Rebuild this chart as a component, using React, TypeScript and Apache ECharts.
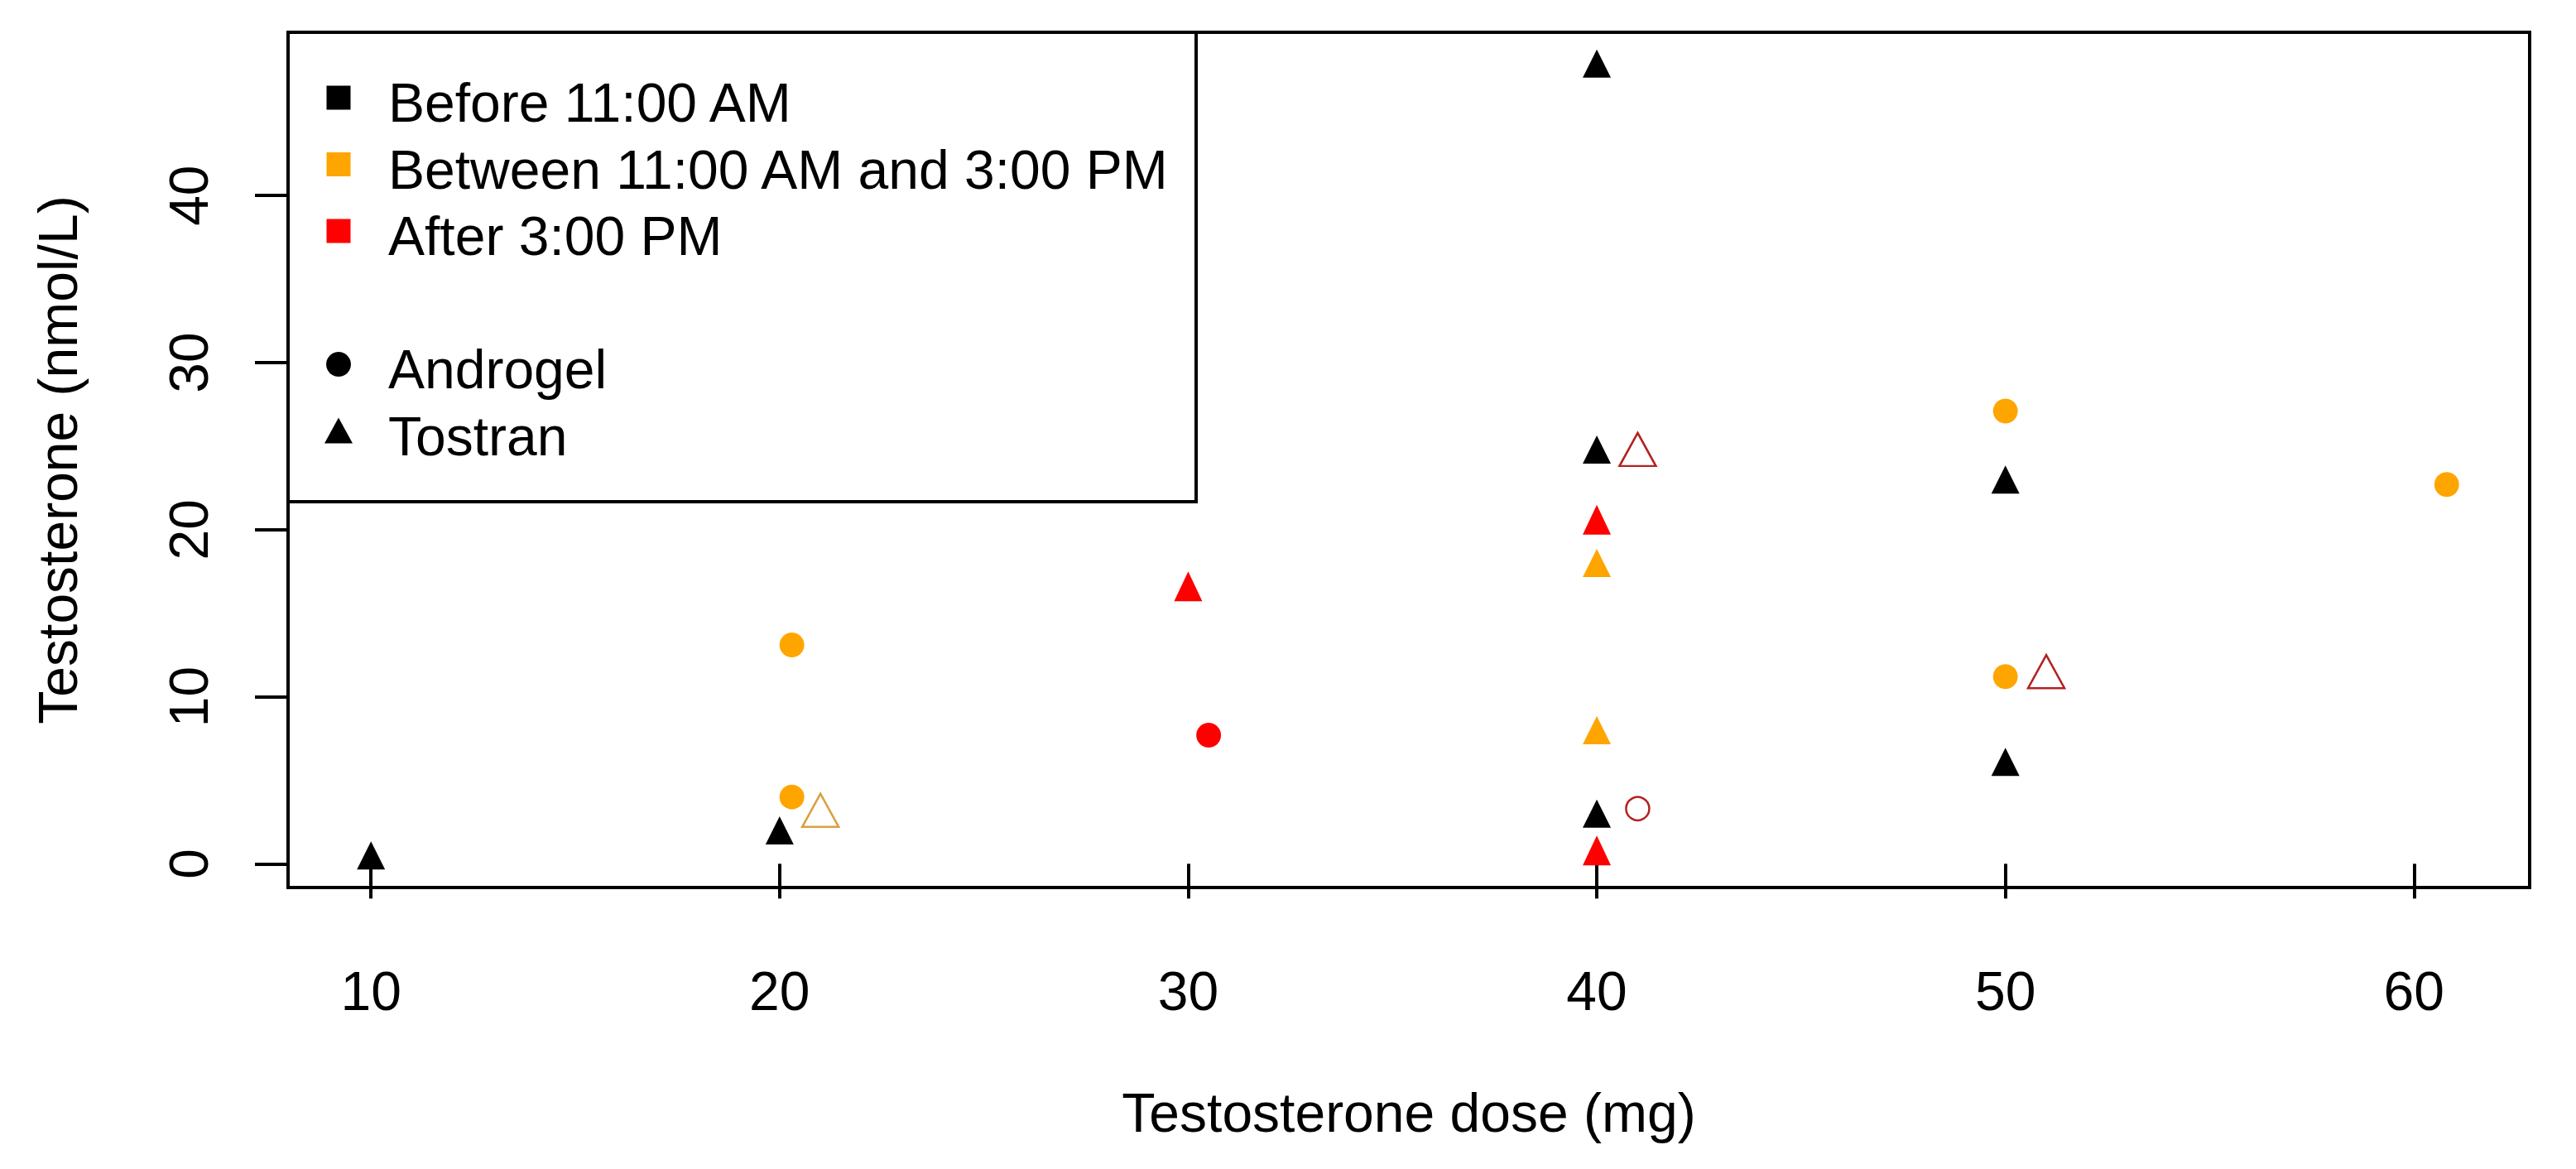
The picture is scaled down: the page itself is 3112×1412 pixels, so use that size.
import React, { useEffect, useRef } from "react";
import * as echarts from "echarts";

// Axis ticks
const xTicks = [10, 20, 30, 40, 50, 60];
const yTicks = [0, 10, 20, 30, 40];

// Data: [dose (mg), testosterone (nmol/L)]
const beforeTostran = [[10, 0.5], [20, 2.0], [40, 47.9], [40, 24.8], [40, 3.0], [50, 23.0], [50, 6.1]];
const betweenAndrogel = [[20.3, 4.0], [20.3, 13.1], [50, 27.1], [50, 11.2], [60.8, 22.7]];
const betweenTostran = [[40, 18.0], [40, 8.0]];
const afterAndrogel = [[30.5, 7.7]];
const afterTostran = [[30, 16.6], [40, 20.6], [40, 0.8]];
const betweenTostranOpen = [[21, 3.2]];
const afterTostranOpen = [[41, 24.8], [51, 11.5]];
const afterAndrogelOpen = [[41, 3.3]];

const legendGroups = ["Before 11:00 AM", "Between 11:00 AM and 3:00 PM", "After 3:00 PM"];
const legendProducts = ["Androgel", "Tostran"];

const BLACK = "#000000";
const ORANGE = "#FFA500";
const RED = "#FF0000";
const ORANGE_OPEN = "#D9A040";
const RED_OPEN = "#B22222";
const groupColors = [BLACK, ORANGE, RED];

const FONT = "'Liberation Sans', Arial, sans-serif";
const FS = 66;

export default function App() {
  const ref = useRef<HTMLDivElement>(null);

  useEffect(() => {
    if (!ref.current) return;
    const chart = echarts.init(ref.current, null, { renderer: "svg" });

    const filled = (name: string, data: number[][], symbol: string, color: string, size: any) => ({
      name,
      type: "scatter",
      data,
      symbol,
      symbolSize: size,
      itemStyle: { color, opacity: 1 },
      emphasis: { disabled: true },
    });
    const open = (name: string, data: number[][], symbol: string, color: string, size: any) => ({
      name,
      type: "scatter",
      data,
      symbol,
      symbolSize: size,
      itemStyle: { color: "transparent", borderColor: color, borderWidth: 2.5, opacity: 1 },
      emphasis: { disabled: true },
    });

    const rowY = [118, 198.5, 279, 440, 520.5];
    const symX = 409;
    const textX = 469;

    const legendChildren: any[] = [
      {
        type: "rect",
        shape: { x: 348, y: 39, width: 1097, height: 567 },
        style: { fill: "#ffffff", stroke: "#000", lineWidth: 4 },
      },
    ];
    legendGroups.forEach((g, i) => {
      legendChildren.push({
        type: "rect",
        shape: { x: symX - 14.5, y: rowY[i] - 14.5, width: 29, height: 29 },
        style: { fill: groupColors[i] },
      });
      legendChildren.push({
        type: "text",
        x: textX,
        y: rowY[i] + 6,
        style: { text: g, fontSize: FS, fontFamily: FONT, fill: "#000", verticalAlign: "middle", align: "left" },
      });
    });
    legendChildren.push({
      type: "circle",
      shape: { cx: symX, cy: rowY[3], r: 15 },
      style: { fill: "#000" },
    });
    legendChildren.push({
      type: "polygon",
      shape: { points: [[symX, rowY[4] - 16], [symX + 17, rowY[4] + 15], [symX - 17, rowY[4] + 15]] },
      style: { fill: "#000" },
    });
    legendProducts.forEach((p, j) => {
      legendChildren.push({
        type: "text",
        x: textX,
        y: rowY[3 + j] + 6,
        style: { text: p, fontSize: FS, fontFamily: FONT, fill: "#000", verticalAlign: "middle", align: "left" },
      });
    });

    chart.setOption({
      animation: false,
      backgroundColor: "#ffffff",
      textStyle: { fontFamily: FONT },
      grid: {
        left: 348,
        right: 56,
        top: 39,
        bottom: 340,
        show: true,
        borderColor: "#000",
        borderWidth: 4,
        backgroundColor: "transparent",
      },
      xAxis: {
        type: "value",
        min: 7.97,
        max: 62.83,
        splitLine: { show: false },
        axisLine: { show: false },
        axisTick: {
          show: true,
          length: 42,
          lineStyle: { color: "#000", width: 4 },
          customValues: xTicks,
        },
        axisLabel: {
          show: true,
          customValues: xTicks,
          fontSize: FS,
          fontFamily: FONT,
          color: "#000",
          margin: 125,
          verticalAlign: "middle",
          showMinLabel: true,
          showMaxLabel: true,
        },
        name: "Testosterone dose (mg)",
        nameLocation: "middle",
        nameGap: 272,
        nameTextStyle: { fontSize: FS, fontFamily: FONT, color: "#000", verticalAlign: "middle" },
      },
      yAxis: {
        type: "value",
        min: -1.42,
        max: 49.77,
        splitLine: { show: false },
        axisLine: { show: false },
        axisTick: {
          show: true,
          length: 40,
          lineStyle: { color: "#000", width: 4 },
          customValues: yTicks,
        },
        axisLabel: {
          show: true,
          customValues: yTicks,
          rotate: 90,
          fontSize: FS,
          fontFamily: FONT,
          color: "#000",
          margin: 120,
          verticalAlign: "middle",
          align: "center",
        },
        name: "Testosterone (nmol/L)",
        nameLocation: "middle",
        nameRotate: 90,
        nameGap: 278,
        nameTextStyle: { fontSize: FS, fontFamily: FONT, color: "#000", verticalAlign: "middle" },
      },
      series: [
        filled("Before 11:00 AM – Tostran", beforeTostran, "triangle", BLACK, [34, 34]),
        filled("Between – Androgel", betweenAndrogel, "circle", ORANGE, 30),
        filled("Between – Tostran", betweenTostran, "triangle", ORANGE, [34, 34]),
        filled("After – Androgel", afterAndrogel, "circle", RED, 30),
        filled("After – Tostran", afterTostran, "triangle", RED, [34, 36]),
        open("Between – Tostran (open)", betweenTostranOpen, "triangle", ORANGE_OPEN, [44, 40]),
        open("After – Tostran (open)", afterTostranOpen, "triangle", RED_OPEN, [44, 40]),
        open("After – Androgel (open)", afterAndrogelOpen, "circle", RED_OPEN, 28),
      ],
      graphic: [{ type: "group", z: 100, children: legendChildren }],
    });

    return () => {
      chart.dispose();
    };
  }, []);

  return (
    <div
      ref={ref}
      style={{ position: "fixed", left: 0, top: 0, width: "3112px", height: "1412px", background: "#fff" }}
    />
  );
}
